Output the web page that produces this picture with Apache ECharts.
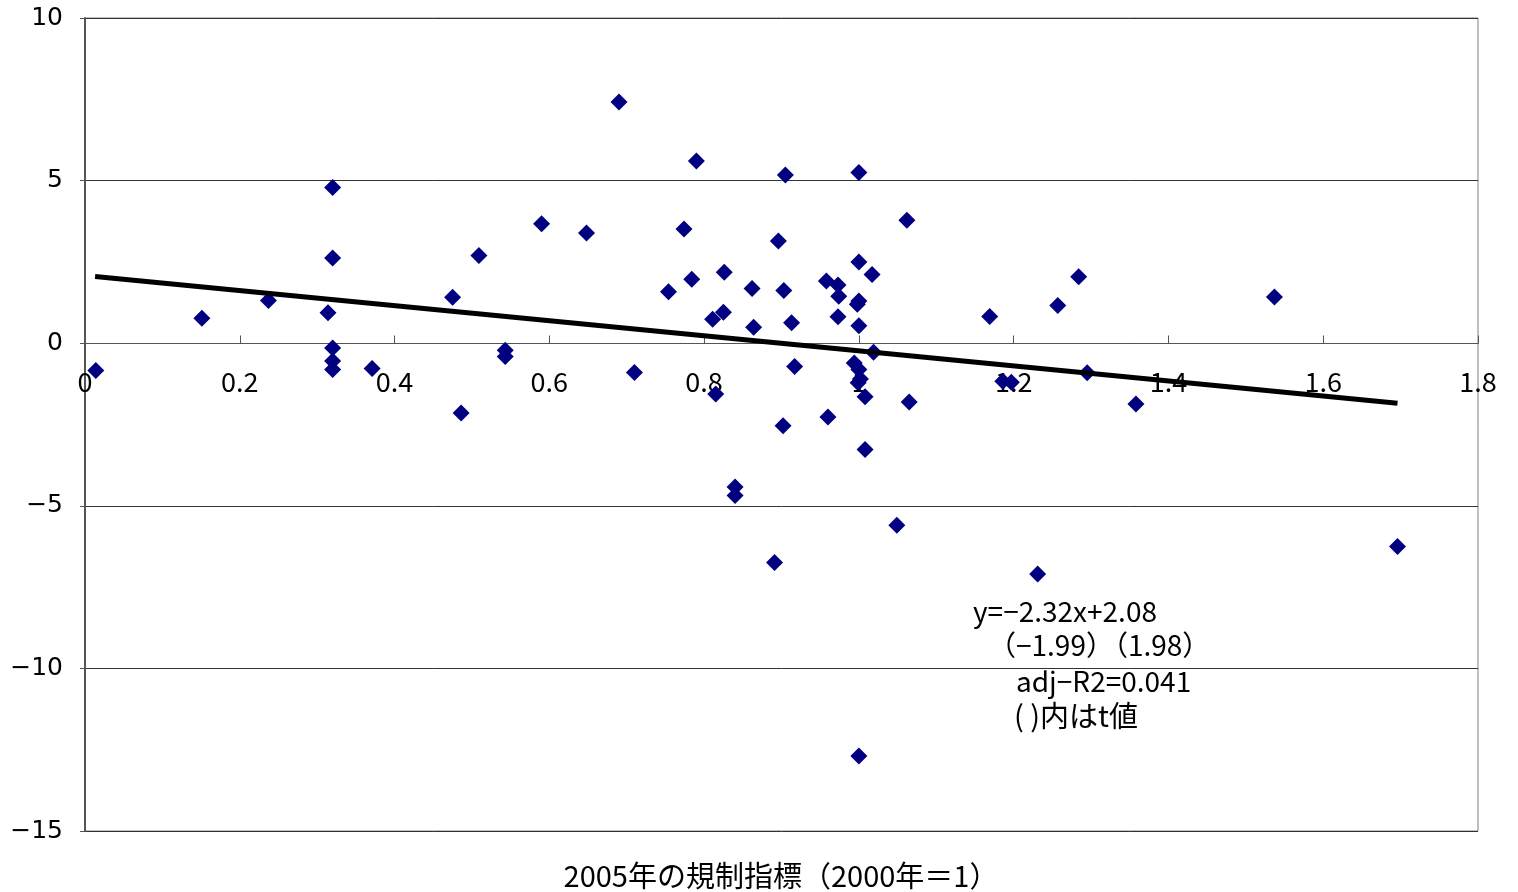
<!DOCTYPE html>
<html>
<head>
<meta charset="utf-8">
<style>
  html, body { margin: 0; padding: 0; background: #fff; }
  #chart { width: 1518px; height: 892px; }
</style>
<script src="https://cdn.jsdelivr.net/npm/echarts@6/dist/echarts.min.js"></script>
</head>
<body>
<div id="chart"></div>
<script>
// 2005年の規制指標（x）と縦軸の値（y）
const xValues = [
  0.014, 0.151, 0.237, 0.320, 0.320, 0.314, 0.320, 0.320, 0.320, 0.371,
  0.475, 0.509, 0.486, 0.543, 0.543, 0.590, 0.648, 0.690, 0.710, 0.754,
  0.774, 0.784, 0.790, 0.811, 0.815, 0.825, 0.826, 0.840, 0.840, 0.862,
  0.864, 0.891, 0.896, 0.902, 0.903, 0.905, 0.913, 0.917, 0.958, 0.960,
  0.973, 0.974, 0.973, 0.994, 1.000, 1.000, 1.000, 1.000, 0.998, 1.000,
  1.002, 0.999, 1.008, 1.008, 1.017, 1.019, 1.049, 1.062, 1.065, 1.169,
  1.186, 1.197, 1.231, 1.257, 1.284, 1.295, 1.358, 1.537, 1.696, 1.000
];
const yValues = [
  -0.84, 0.77, 1.31, 4.79, 2.62, 0.94, -0.15, -0.55, -0.81, -0.78,
  1.41, 2.70, -2.15, -0.22, -0.41, 3.67, 3.39, 7.42, -0.90, 1.58,
  3.51, 1.97, 5.60, 0.74, -1.56, 0.95, 2.18, -4.42, -4.68, 1.68,
  0.49, -6.74, 3.14, -2.54, 1.62, 5.17, 0.63, -0.72, 1.91, -2.27,
  1.79, 1.44, 0.81, -0.61, -0.81, 5.25, 2.50, 1.30, 1.20, 0.54,
  -1.10, -1.22, -1.65, -3.27, 2.11, -0.28, -5.60, 3.78, -1.81, 0.82,
  -1.17, -1.20, -7.10, 1.16, 2.04, -0.91, -1.87, 1.42, -6.25, -12.69
];
// 回帰直線の両端
const trendLine = [[0.013, 2.05], [1.696, -1.85]];
const xTicks = ['0', '0.2', '0.4', '0.6', '0.8', '1', '1.2', '1.4', '1.6', '1.8'];
const yTicks = ['−15', '−10', '−5', '0', '5', '10'];
const xName = '2005年の規制指標（2000年＝1）';
const noteLines = ['y=−2.32x+2.08', '（−1.99）（1.98）', 'adj−R2=0.041', '( )内はt値'];

const font = '"Noto Sans CJK JP", "Noto Sans", sans-serif';
const points = xValues.map((x, i) => [x, yValues[i]]);

const mychart = echarts.init(document.getElementById('chart'));

// x軸を y=0 の位置へ（グリッド下端 831px → 0 の位置 343.5px）
const xAxisOffset = -487.5;

const option = {
  animation: false,
  backgroundColor: '#ffffff',
  grid: {
    left: 85,
    right: 40,
    top: 18,
    bottom: 61,
    show: true,
    borderColor: '#808080',
    borderWidth: 1,
  },
  xAxis: {
    type: 'value',
    min: 0,
    max: 1.8,
    interval: 0.2,
    position: 'bottom',
    offset: xAxisOffset,
    axisLine: { onZero: false, lineStyle: { color: '#555', width: 1 } },
    axisTick: { show: true, inside: true, length: 8, lineStyle: { color: '#555' } },
    axisLabel: {
      color: '#000',
      fontSize: 27,
      fontFamily: font,
      margin: 25,
      formatter: (v) => xTicks[Math.round(v / 0.2)],
    },
    splitLine: { show: false },
  },
  yAxis: {
    type: 'value',
    min: -15,
    max: 10,
    interval: 5,
    axisLine: { show: true, lineStyle: { color: '#555', width: 2 } },
    axisTick: { show: true, length: 5, lineStyle: { color: '#555' } },
    axisLabel: {
      color: '#000',
      fontSize: 25,
      fontFamily: '"DejaVu Sans", sans-serif',
      margin: 22,
      formatter: (v) => yTicks[Math.round((v + 15) / 5)],
    },
    splitLine: { show: true, lineStyle: { color: '#333', width: 1 } },
  },
  series: [
    {
      name: 'data',
      type: 'scatter',
      symbol: 'diamond',
      symbolSize: 17,
      itemStyle: { color: '#000080', opacity: 1 },
      data: points,
      z: 3,
    },
    {
      name: 'trend',
      type: 'line',
      data: trendLine,
      showSymbol: false,
      symbol: 'none',
      lineStyle: { color: '#000', width: 5 },
      z: 4,
    },
  ],
  graphic: [
    {
      type: 'text',
      x: 781,
      y: 876,
      style: {
        text: xName,
        fill: '#000',
        font: '29px ' + font,
        align: 'center',
        verticalAlign: 'middle',
      },
    },
    { type: 'text', left: 973, top: 597, style: { text: noteLines[0], fill: '#000', font: '28px ' + font } },
    { type: 'text', left: 988, top: 631, style: { text: noteLines[1], fill: '#000', font: '28px ' + font } },
    { type: 'text', left: 1016, top: 667, style: { text: noteLines[2], fill: '#000', font: '28px ' + font } },
    { type: 'text', left: 1014, top: 701, style: { text: noteLines[3], fill: '#000', font: '29px ' + font } },
  ],
};

mychart.setOption(option);

window.addEventListener('resize', () => {
  mychart.resize();
});
</script>
</body>
</html>
